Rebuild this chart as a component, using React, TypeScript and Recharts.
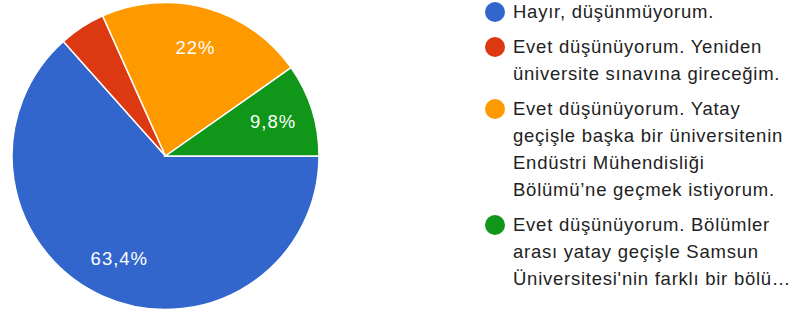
import React from "react";
import { PieChart, Pie, Cell, Legend } from "recharts";

const categories = [
  "Hayır, düşünmüyorum.",
  "Evet düşünüyorum. Yeniden\nüniversite sınavına gireceğim.",
  "Evet düşünüyorum. Yatay\ngeçişle başka bir üniversitenin\nEndüstri Mühendisliği\nBölümü’ne geçmek istiyorum.",
  "Evet düşünüyorum. Bölümler\narası yatay geçişle Samsun\nÜniversitesi'nin farklı bir bölü…",
];
const responses = [26, 2, 9, 4];
const colors = ["#3366cc", "#dc3912", "#ff9900", "#109618"];

const data = categories.map((name, i) => ({ name, value: responses[i] }));

const FONT = "'Liberation Sans', Arial, Helvetica, sans-serif";

const formatPct = (p: number) => {
  let s = (p * 100).toFixed(1);
  if (s.endsWith(".0")) s = s.slice(0, -2);
  return s.replace(".", ",") + "%";
};

const renderLabel = (props: any) => {
  const { cx, cy, midAngle, outerRadius, percent } = props;
  if (percent < 0.05) return null;
  const RAD = Math.PI / 180;
  const r = outerRadius * 0.735;
  const x = cx + r * Math.cos(-midAngle * RAD);
  const y = cy + r * Math.sin(-midAngle * RAD);
  return (
    <text
      x={x}
      y={y}
      fill="#ffffff"
      textAnchor="middle"
      dominantBaseline="central"
      style={{ fontFamily: FONT, fontSize: 18.5, letterSpacing: 1 }}
    >
      {formatPct(percent)}
    </text>
  );
};

const renderLegend = () => (
  <div style={{ fontFamily: FONT, fontSize: 18.5, letterSpacing: 0.75, color: "#222", lineHeight: "27px" }}>
    {categories.map((c, i) => (
      <div key={i} style={{ position: "relative", paddingLeft: 28, marginBottom: 8, whiteSpace: "pre" }}>
        <span
          style={{
            position: "absolute",
            left: 0,
            top: 4,
            width: 20,
            height: 20,
            borderRadius: 10,
            background: colors[i],
          }}
        />
        {c}
      </div>
    ))}
  </div>
);

export default function App() {
  return (
    <div style={{ position: "absolute", left: 0, top: 0, width: 797, height: 315, background: "#fff", overflow: "hidden" }}>
      <PieChart width={797} height={315} margin={{ top: 0, right: 0, bottom: 0, left: 0 }}>
        <Pie
          data={data}
          dataKey="value"
          nameKey="name"
          cx={165.5}
          cy={156}
          outerRadius={153.5}
          startAngle={0}
          endAngle={-360}
          stroke="#ffffff"
          strokeWidth={1.5}
          label={renderLabel}
          labelLine={false}
          isAnimationActive={false}
        >
          {data.map((d, i) => (
            <Cell key={i} fill={colors[i]} />
          ))}
        </Pie>
        <Legend
          layout="vertical"
          align="right"
          verticalAlign="top"
          content={renderLegend}
          wrapperStyle={{ left: 485, top: -2, width: 312 }}
        />
      </PieChart>
    </div>
  );
}
